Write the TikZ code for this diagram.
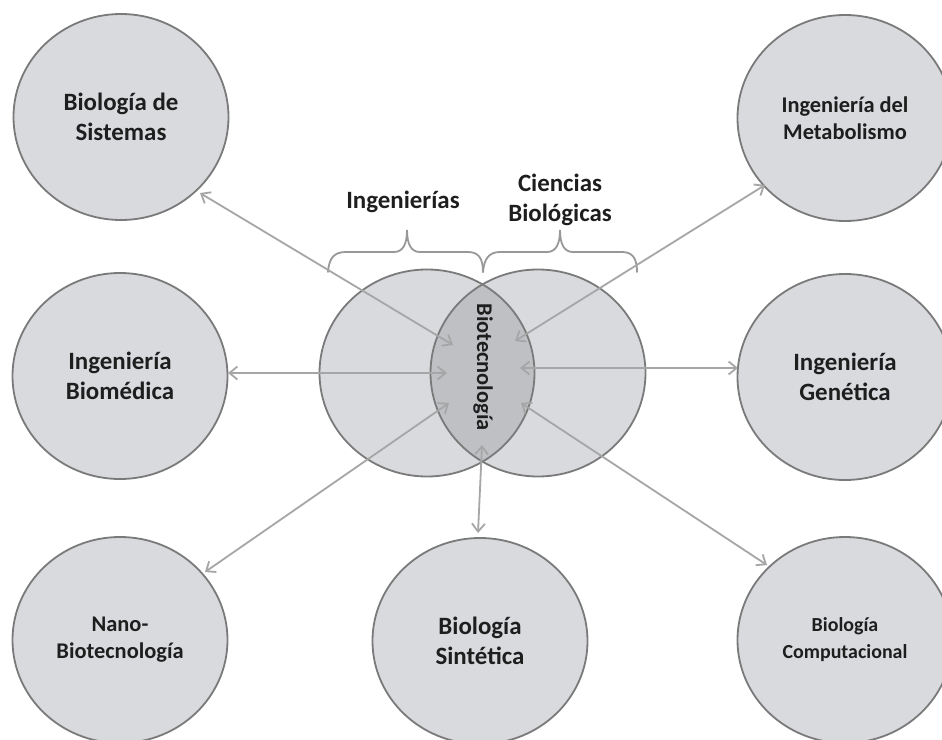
\documentclass[tikz,border=0pt]{standalone}
\usepackage{fontspec}
\setmainfont{Carlito}
\usetikzlibrary{arrows.meta,shapes.geometric}
\definecolor{circfill}{HTML}{D8DADD}
\definecolor{lensfill}{HTML}{BEC0C4}
\definecolor{circline}{HTML}{7A7A7A}
\definecolor{arrowgray}{HTML}{A6A6A6}
\definecolor{bracegray}{HTML}{989898}
\definecolor{txt}{HTML}{1E1E1E}
\tikzset{
  bubble/.style={ellipse, fill=circfill, draw=circline, line width=1.8bp,
    minimum width=215bp, minimum height=206bp, inner sep=0pt,
    align=center, text=txt, font=\bfseries\fontsize{25}{30}\selectfont},
  midfont/.style={font=\bfseries\fontsize{22.5}{27}\selectfont},
  smallfont/.style={font=\bfseries\fontsize{20}{27}\selectfont},
  link/.style={draw=arrowgray, line width=1.8bp,
    {Straight Barb[length=8bp,width=13bp]}-{Straight Barb[length=8bp,width=13bp]}},
  bracepath/.style={draw=bracegray, line width=1.8bp, line cap=round},
  label/.style={align=center, text=txt, font=\bfseries\fontsize{25}{30}\selectfont}
}
\begin{document}
\begin{tikzpicture}[x=1bp,y=-1bp]
\useasboundingbox[fill=white] (0,0) rectangle (942,740);
\clip (0,0) rectangle (942,740);

% outer circles
\node[bubble] (sis) at (121,117) {Biología de\\Sistemas};
\node[bubble,midfont] (met) at (845,118) {Ingeniería del\\Metabolismo};
\node[bubble] (bio) at (120,376) {Ingeniería\\Biomédica};
\node[bubble] (gen) at (845,377) {Ingeniería\\Genética};
\node[bubble,midfont] (nano) at (120,640) {Nano-\\Biotecnología};
\node[bubble] (sin) at (480,641) {Biología\\Sintética};
\node[bubble,smallfont] (comp) at (845,640) {Biología\\Computacional};

% Venn diagram
\coordinate (vl) at (427,373);
\coordinate (vr) at (538,373);
\fill[circfill] (vl) ellipse [x radius=107.5bp, y radius=103.5bp];
\fill[circfill] (vr) ellipse [x radius=107.5bp, y radius=103.5bp];
\begin{scope}
  \clip (vl) ellipse [x radius=107.5bp, y radius=103.5bp];
  \fill[lensfill] (vr) ellipse [x radius=107.5bp, y radius=103.5bp];
\end{scope}
\draw[circline, line width=1.8bp] (vl) ellipse [x radius=107.5bp, y radius=103.5bp];
\draw[circline, line width=1.8bp] (vr) ellipse [x radius=107.5bp, y radius=103.5bp];

% braces
\draw[bracepath] (328,272) .. controls (329,258) and (334,252) .. (346,252)
  -- (394,252) .. controls (403,252) and (407,244) .. (407,230)
  .. controls (407,244) and (411,252) .. (420,252)
  -- (468,252) .. controls (479,252) and (483,259) .. (483,272);
\draw[bracepath] (483,272) .. controls (484,259) and (489,252) .. (500,252)
  -- (547,252) .. controls (556,252) and (560,244) .. (560,230)
  .. controls (560,244) and (564,252) .. (573,252)
  -- (622,252) .. controls (633,252) and (637,259) .. (637,272);

\node[label] (ing) at (403,202) {Ingenierías};
\node[label] (cien) at (560,200) {Ciencias\\Biológicas};

% connector ends
\coordinate (i1) at (453,345); \coordinate (o1) at (200,193);
\coordinate (i2) at (515,341); \coordinate (o2) at (765,185);
\coordinate (i3) at (447,373); \coordinate (o3) at (228,373);
\coordinate (i4) at (520,368); \coordinate (o4) at (738,368);
\coordinate (i5) at (449,403); \coordinate (o5) at (205,572);
\coordinate (i6) at (482,445); \coordinate (o6) at (478,533);
\coordinate (i7) at (521,403); \coordinate (o7) at (767,565);
\foreach \k in {1,...,7}{\draw[link] (i\k) -- (o\k);}

\node[text=txt, rotate=-90, font=\bfseries\fontsize{22.5}{27}\selectfont] (bt) at (483,367) {Biotecnología};
\end{tikzpicture}
\end{document}
